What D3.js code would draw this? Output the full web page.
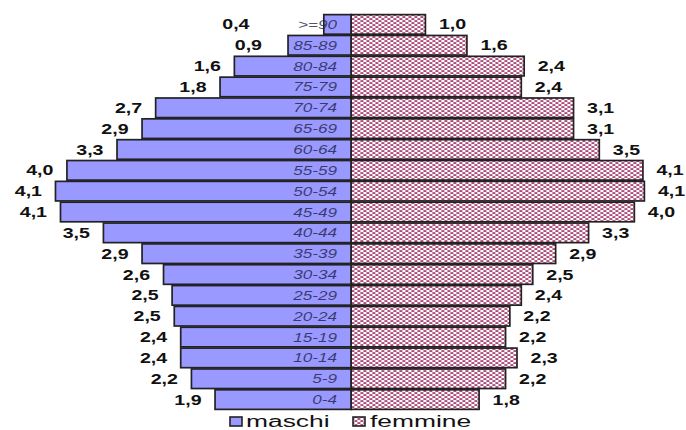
<!DOCTYPE html>
<html>
<head>
<meta charset="utf-8">
<script src="https://cdn.jsdelivr.net/npm/d3@7"></script>
<style>
  body { margin: 0; background: #fff; }
  svg { display: block; font-family: "Liberation Sans", Arial, sans-serif; }
</style>
</head>
<body>
<div id="chart"></div>
<script>
// --- Data ---
const ageGroups = [">=90", "85-89", "80-84", "75-79", "70-74", "65-69", "60-64",
  "55-59", "50-54", "45-49", "40-44", "35-39", "30-34", "25-29", "20-24",
  "15-19", "10-14", "5-9", "0-4"];

// percent of population, top (oldest) to bottom
const maschi = [0.38, 0.88, 1.63, 1.83, 2.73, 2.92, 3.27, 3.97, 4.13, 4.06,
  3.46, 2.92, 2.62, 2.50, 2.47, 2.38, 2.38, 2.23, 1.90];
const femmine = [1.04, 1.62, 2.42, 2.38, 3.11, 3.11, 3.47, 4.08, 4.10, 3.96,
  3.32, 2.86, 2.54, 2.38, 2.22, 2.16, 2.32, 2.16, 1.79];

const seriesNames = ["maschi", "femmine"];

// --- Setup ---
const width = 686;
const height = 430;
const centerX = 351;

const svg = d3.select("#chart").append("svg")
  .attr("width", width)
  .attr("height", height);

// brick-like dotted pattern for the female bars
const defs = svg.append("defs");
const pat = defs.append("pattern")
  .attr("id", "dots")
  .attr("patternUnits", "userSpaceOnUse")
  .attr("width", 6)
  .attr("height", 4);
pat.append("rect").attr("width", 6).attr("height", 4).attr("fill", "#fff");
pat.append("rect").attr("x", 0.4).attr("y", 0.2).attr("width", 3).attr("height", 1.7)
  .attr("fill", "#a3386e");
pat.append("rect").attr("x", 3.4).attr("y", 2.2).attr("width", 3).attr("height", 1.7)
  .attr("fill", "#a3386e");
pat.append("rect").attr("x", -2.6).attr("y", 2.2).attr("width", 3).attr("height", 1.7)
  .attr("fill", "#a3386e");

const x = d3.scaleLinear().domain([0, 4.5]).range([0, 322]);
const y = d3.scaleBand()
  .domain(ageGroups)
  .range([14, 410])
  .paddingInner(0.06)
  .paddingOuter(0.03);

const fmt = v => d3.format(".1f")(v).replace(".", ",");

const rows = ageGroups.map((g, i) => ({ group: g, m: maschi[i], f: femmine[i] }));

// --- Bars ---
svg.selectAll(".bar-f")
  .data(rows)
  .enter()
  .append("rect")
  .attr("class", "bar-f")
  .attr("x", centerX)
  .attr("y", d => y(d.group))
  .attr("width", d => x(d.f))
  .attr("height", y.bandwidth())
  .attr("fill", "url(#dots)")
  .attr("stroke", "#222")
  .attr("stroke-width", 1.7);

svg.selectAll(".bar-m")
  .data(rows)
  .enter()
  .append("rect")
  .attr("class", "bar-m")
  .attr("x", d => centerX - x(d.m))
  .attr("y", d => y(d.group))
  .attr("width", d => x(d.m))
  .attr("height", y.bandwidth())
  .attr("fill", "#9999ff")
  .attr("stroke", "#222")
  .attr("stroke-width", 1.7);

// --- Text helper (the source has horizontally stretched lettering) ---
function stretchedText(sel, sx) {
  return sel.attr("transform", d => `translate(${d.tx},${d.ty}) scale(${sx},1)`);
}

// category labels
stretchedText(svg.selectAll(".cat")
  .data(rows.map(d => ({ ...d, tx: centerX - 14, ty: y(d.group) + y.bandwidth() / 2 })))
  .enter()
  .append("text")
  .attr("class", "cat")
  .attr("text-anchor", "end")
  .attr("dy", "0.36em")
  .attr("font-size", 12.5)
  .attr("font-style", "italic")
  .attr("fill", "#1a1a40")
  .attr("fill-opacity", 0.75)
  .text(d => d.group), 1.37);

// male value labels
stretchedText(svg.selectAll(".val-m")
  .data(rows.map(d => ({
    ...d,
    tx: Math.min(centerX - x(d.m) - 13.5, 265 - (1 - d.m) * 25),
    ty: y(d.group) + y.bandwidth() / 2
  })))
  .enter()
  .append("text")
  .attr("class", "val-m")
  .attr("text-anchor", "end")
  .attr("dy", "0.36em")
  .attr("font-size", 14)
  .attr("font-weight", "bold")
  .attr("fill", "#111")
  .text(d => fmt(d.m)), 1.4);

// female value labels
stretchedText(svg.selectAll(".val-f")
  .data(rows.map(d => ({
    ...d,
    tx: centerX + x(d.f) + 13.5,
    ty: y(d.group) + y.bandwidth() / 2
  })))
  .enter()
  .append("text")
  .attr("class", "val-f")
  .attr("text-anchor", "start")
  .attr("dy", "0.36em")
  .attr("font-size", 14)
  .attr("font-weight", "bold")
  .attr("fill", "#111")
  .text(d => fmt(d.f)), 1.4);

// --- Legend ---
const legendItems = [
  { name: seriesNames[0], fill: "#9999ff", sx: 230, tx: 246 },
  { name: seriesNames[1], fill: "url(#dots)", sx: 353, tx: 370 }
];
const legend = svg.append("g").attr("class", "legend");
legend.selectAll("rect")
  .data(legendItems)
  .enter()
  .append("rect")
  .attr("x", d => d.sx)
  .attr("y", 417)
  .attr("width", 12)
  .attr("height", 9)
  .attr("fill", d => d.fill)
  .attr("stroke", "#222")
  .attr("stroke-width", 1.6);

stretchedText(legend.selectAll("text")
  .data(legendItems.map(d => ({ ...d, ty: 427 })))
  .enter()
  .append("text")
  .attr("font-size", 16)
  .attr("fill", "#111")
  .text(d => d.name), 1.65);
</script>
</body>
</html>
